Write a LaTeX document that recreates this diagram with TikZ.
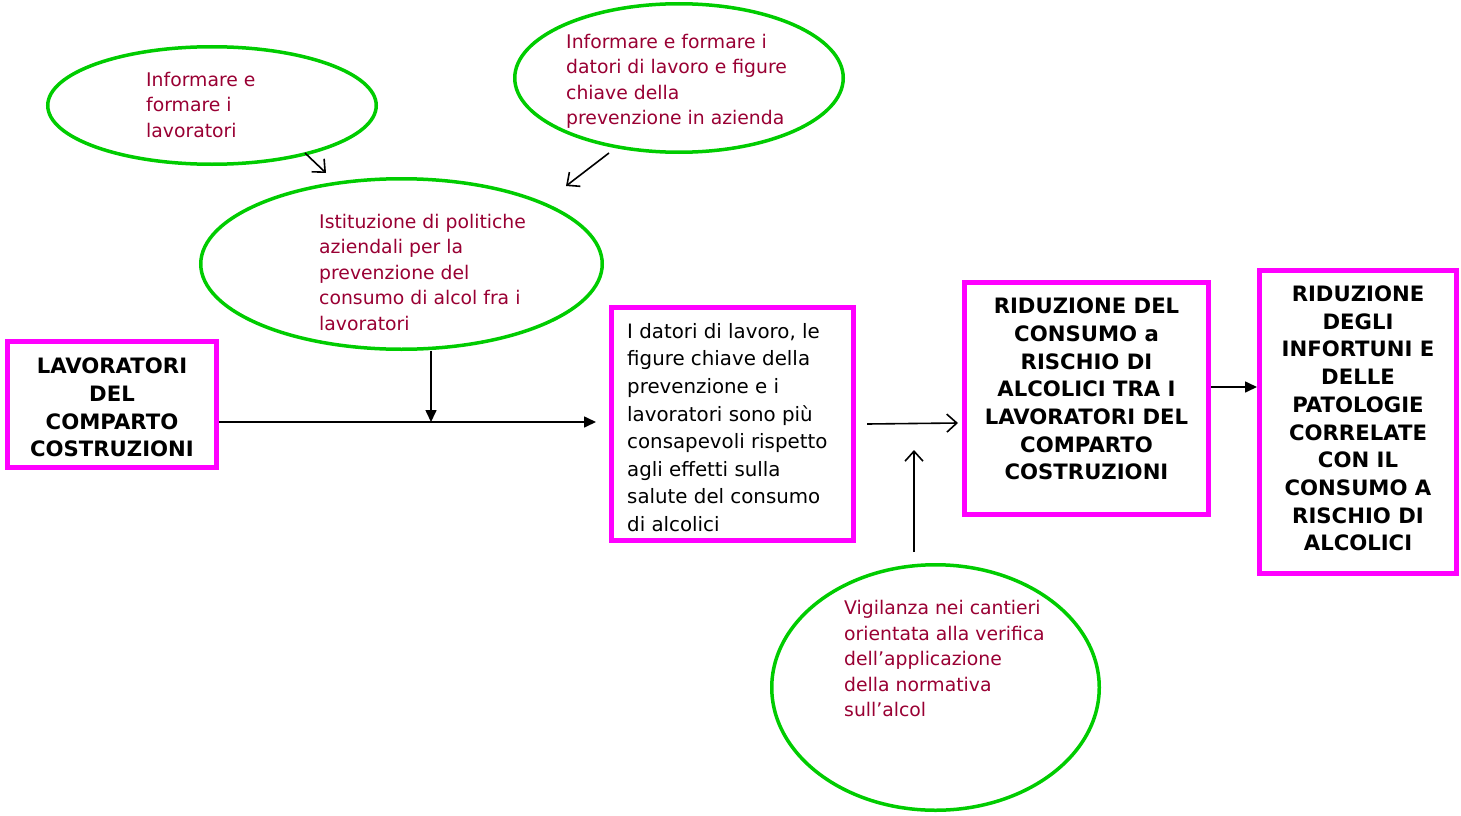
\documentclass[tikz,border=0pt]{standalone}
\usepackage{fontspec}
\setmainfont{DejaVu Sans}
\usetikzlibrary{arrows.meta,shapes.geometric}
\definecolor{mag}{RGB}{255,0,255}
\definecolor{grn}{RGB}{0,204,0}
\definecolor{txt}{RGB}{153,0,51}
\begin{document}
\begin{tikzpicture}[x=1pt,y=-1pt,
  box/.style={draw=mag, line width=5pt, inner sep=0pt, rectangle},
  oval/.style={draw=grn, line width=3.5pt, ellipse, inner sep=0pt},
  otext/.style={text=txt, align=left, inner sep=0pt, anchor=west, font=\fontsize{18.8}{25.5}\selectfont},
  btext/.style={align=center, inner sep=0pt, font=\fontsize{21.2}{27.7}\selectfont\bfseries},
  ntext/.style={align=left, inner sep=0pt, anchor=west, font=\fontsize{19.8}{27.6}\selectfont},
  fa/.style={line width=1.6pt, -{Triangle[length=12pt,width=11pt]}},
  oa/.style={line width=1.6pt, -{Straight Barb[length=10pt,width=18pt]}}]
\useasboundingbox (0,0) rectangle (1461,816);
% boxes
\node[box, minimum width=209pt, minimum height=126pt] (b1) at (112,404.5) {};
\node[box, minimum width=242pt, minimum height=233pt] (b2) at (732.5,424) {};
\node[box, minimum width=244pt, minimum height=232pt] (b3) at (1086.5,398.5) {};
\node[box, minimum width=197pt, minimum height=303pt] (b4) at (1358,422) {};
% ellipses
\node[oval, minimum width=328.5pt, minimum height=117.5pt] (e1) at (212,105.5) {};
\node[oval, minimum width=328.5pt, minimum height=148.5pt] (e2) at (679,78) {};
\node[oval, minimum width=401.5pt, minimum height=170.5pt] (e3) at (401.5,264) {};
\node[oval, minimum width=327.5pt, minimum height=245.5pt] (e4) at (935.5,687.5) {};
% texts
\node[btext] (t1) at (112,407.5) {LAVORATORI\\DEL\\COMPARTO\\COSTRUZIONI};
\node[ntext] (t2) at (627,427.5) {I datori di lavoro, le\\figure chiave della\\prevenzione e i\\lavoratori sono più\\consapevoli rispetto\\agli effetti sulla\\salute del consumo\\di alcolici};
\node[btext] (t3) at (1086.5,389) {RIDUZIONE DEL\\CONSUMO a\\RISCHIO DI\\ALCOLICI TRA I\\LAVORATORI DEL\\COMPARTO\\COSTRUZIONI};
\node[btext] (t4) at (1358,418.5) {RIDUZIONE\\DEGLI\\INFORTUNI E\\DELLE\\PATOLOGIE\\CORRELATE\\CON IL\\CONSUMO A\\RISCHIO DI\\ALCOLICI};
\node[otext] (s1) at (146,104.5) {Informare e\\formare i\\lavoratori};
\node[otext] (s2) at (566,81.5) {Informare e formare i\\datori di lavoro e figure\\chiave della\\prevenzione in azienda};
\node[otext] (s3) at (319,272) {Istituzione di politiche\\aziendali per la\\prevenzione del\\consumo di alcol fra i\\lavoratori};
\node[otext] (s4) at (844,658.5) {Vigilanza nei cantieri\\orientata alla verifica\\dell’applicazione\\della normativa\\sull’alcol};
% connector points
\coordinate (j) at (431,422);
\coordinate (a1s) at (305,153);
\coordinate (a1e) at (326,173);
\coordinate (a2s) at (609,153);
\coordinate (a2e) at (566,186);
\coordinate (m1) at (867,424);
\coordinate (m2) at (958,423);
\coordinate (v1) at (914,552);
\coordinate (v2) at (914,450);
% connectors
\draw[fa, shorten >=13pt] (b1.east |- j) -- (b2.west |- j);
\draw[fa] (e3.south -| j) -- (j);
\draw[oa] (a1s) -- (a1e);
\draw[oa] (a2s) -- (a2e);
\draw[oa] (m1) -- (m2);
\draw[oa] (v1) -- (v2);
\draw[fa] (b3.east |- 0,387) -- (b4.west |- 0,387);
\end{tikzpicture}
\end{document}
